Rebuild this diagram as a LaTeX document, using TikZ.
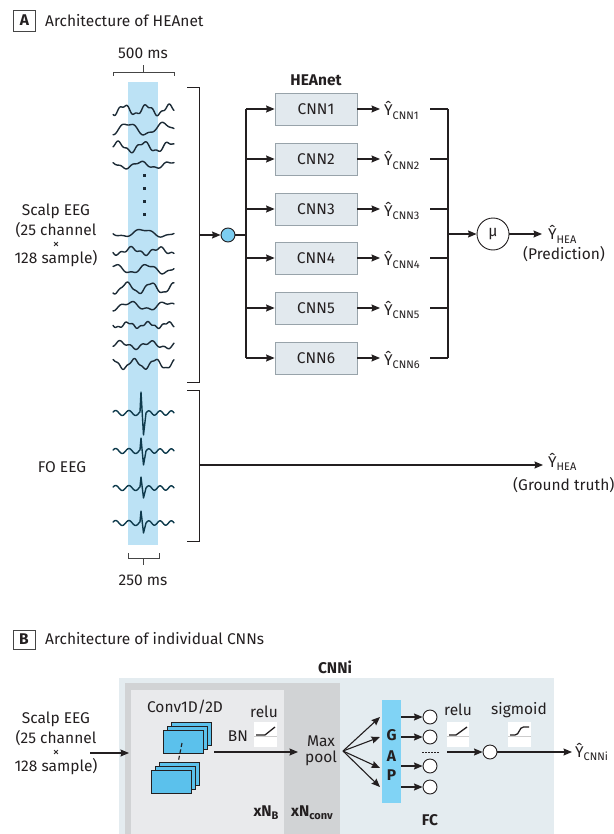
\documentclass[tikz,border=0pt]{standalone}
\usepackage{fontspec}
\setmainfont{Fira Sans}
\usetikzlibrary{arrows.meta,calc}
\definecolor{txt}{HTML}{231F20}
\definecolor{bandc}{HTML}{BCE2F5}
\definecolor{splitc}{HTML}{7CCDF0}
\definecolor{boxfill}{HTML}{E2E9EE}
\definecolor{boxline}{HTML}{98A3AA}
\definecolor{outerc}{HTML}{E4ECF0}
\definecolor{darkg}{HTML}{D1D3D5}
\definecolor{innerg}{HTML}{E9EAEC}
\definecolor{gapc}{HTML}{80D3F5}
\definecolor{convc}{HTML}{5BC1EC}
\definecolor{tracec}{HTML}{1C2B36}
\definecolor{fotc}{HTML}{0E3A4C}
\definecolor{brk}{HTML}{454545}
\newcommand{\eegwave}[6]{\draw[trace] plot[domain=0:61,samples=90,smooth] ({113+\x},{#1+#2*sin(#3*\x+#4)+#5*sin(2.7*#3*\x+#6)});}
\newcommand{\fowave}[3]{\draw[trace,draw=fotc] plot[domain=0:27,samples=40,smooth] ({113+\x},{#1+2.5*sin(27*\x+200)}) -- (141,#1-#2) -- (143.5,#1+#3) -- (146,#1) -- plot[domain=0:28,samples=40,smooth] ({146+\x},{#1+2.2*sin(32*\x+180)});}
\newcommand{\fsz}{\fontsize{15.5}{18}\selectfont}
\tikzset{
  conn/.style={line width=1.1pt, draw=txt},
  arr/.style={conn, -{Stealth[length=8.5pt,width=7pt,inset=1pt]}},
  brack/.style={line width=0.9pt, draw=brk},
  cnnbox/.style={draw=boxline, fill=boxfill, line width=0.8pt, minimum width=82pt, minimum height=32pt, inner sep=0pt, text=txt, font=\fsz},
  lbl/.style={text=txt, font=\fsz, inner sep=0pt},
  blbl/.style={lbl, font=\fsz\bfseries},
  panel/.style={draw=brk, line width=0.8pt, minimum width=22pt, minimum height=21pt, inner sep=0pt, text=txt, font=\fsz\bfseries},
  trace/.style={line width=1.4pt, draw=tracec, line cap=round, line join=round},
  dotc/.style={circle, draw=txt, fill=white, line width=0.9pt, minimum size=14pt, inner sep=0pt},
  icon/.style={fill=white},
  convr/.style={draw=txt, fill=convc, line width=0.9pt},
}
\newcommand{\subs}[1]{\raisebox{-0.4ex}{\fontsize{11}{11}\selectfont #1}}
\newcommand{\smx}{{\fontsize{13}{13}\selectfont ×}}
\begin{document}
\begin{tikzpicture}[x=1pt,y=-1pt]
\useasboundingbox (0,0) rectangle (613,834);
% ---------- Panel A ----------
\node[panel] (pA) at (24.5,20.5) {A};
\node[lbl, anchor=west] (tA) at (45,20.5) {Architecture of HEAnet};
\fill[bandc] (128,82) rectangle (158,545);
\node[lbl] (ms500) at (143,53) {500 ms};
\draw[brack] (113,76) -- (113,72) -- (174,72) -- (174,76) (143,72) -- (143,65);
% scalp traces
\eegwave{110}{4.5}{16}{90}{1.5}{0}
\eegwave{129}{5.5}{10}{120}{1.5}{40}
\eegwave{147}{4.5}{14}{200}{1.5}{80}
\eegwave{165}{3}{12}{300}{1}{10}
\foreach \yy in {176,189,202,215} \fill[tracec] (142.5,\yy-1.5) rectangle (145.5,\yy+1.5);
\eegwave{233}{3.5}{9}{0}{1}{50}
\eegwave{251}{3}{13}{30}{1.5}{0}
\eegwave{269}{4}{11}{250}{1.2}{90}
\eegwave{288}{5}{15}{60}{1}{30}
\eegwave{306}{3.5}{10}{100}{1.5}{70}
\eegwave{325}{2.5}{18}{0}{1}{20}
\eegwave{345}{3}{12}{180}{1.5}{60}
\eegwave{364}{4.5}{17}{270}{1}{0}
% FO traces
\fowave{413}{21}{22}
\fowave{451}{13}{14}
\fowave{488}{11}{10}
\fowave{523}{12}{10}
\node[lbl] (l250) at (143,580) {250 ms};
\draw[brack] (128,553) -- (128,558) -- (159,558) -- (159,553) (143,558) -- (143,565);
% left labels
\node[lbl, align=center] (scalpA) at (56,235) {Scalp EEG\\[2pt](25 channel\\[-5pt]\smx\\[-3pt]128 sample)};
\node[lbl] (foA) at (62,467) {FO EEG};
% brackets
\coordinate (sbT) at (187,87); \coordinate (sbB) at (187,382); \coordinate (sbM) at (199,235);
\draw[brack, draw=txt] (sbT) -- (199,87) -- (199,382) -- (sbB);
\coordinate (fbT) at (187,390); \coordinate (fbB) at (187,541); \coordinate (fbM) at (199,465);
\draw[brack, draw=txt] (fbT) -- (199,390) -- (199,541) -- (fbB);
% split
\node[circle, draw=txt, fill=splitc, line width=0.9pt, minimum size=14pt, inner sep=0pt] (split) at (228,235) {};
\draw[arr] (sbM) -- (split);
\coordinate (bx) at (246,235);
\draw[conn] (split) -- (bx);
\node[blbl] (heanet) at (316,80) {HEAnet};
\draw[conn] (246,109) -- (246,358);
\coordinate (rx) at (448,234);
\draw[conn] (448,109) -- (448,358);
\foreach \i/\yy in {1/109,2/159,3/209,4/258,5/308,6/358}{
  \coordinate (bl\i) at (246,\yy);
  \node[cnnbox] (cnn\i) at (316,\yy) {CNN\i};
  \draw[arr] (bl\i) -- (cnn\i);
  \coordinate (ae\i) at (380,\yy);
  \draw[arr] (cnn\i) -- (ae\i);
  \node[lbl, anchor=base west] (yh\i) at (384,\yy+7) {Ŷ\subs{CNN\i}};
  \coordinate (ys\i) at (430,\yy);
  \coordinate (yr\i) at (448,\yy);
  \draw[conn] (ys\i) -- (yr\i);
}
\node[circle, draw=txt, fill=white, line width=0.9pt, minimum size=32pt, inner sep=0pt, text=txt, font=\fsz] (mu) at (493,234) {µ};
\draw[arr] (rx) -- (mu);
\coordinate (pe) at (542,234);
\draw[arr] (mu) -- (pe);
\node[lbl, anchor=base west] (yhea) at (548,240) {Ŷ\subs{HEA}};
\node[lbl] (pred) at (564,254) {(Prediction)};
\coordinate (ge) at (543,465);
\draw[arr] (fbM) -- (ge);
\node[lbl, anchor=base west] (yhea2) at (548,467) {Ŷ\subs{HEA}};
\node[lbl, anchor=west] (gt) at (513,485) {(Ground truth)};
% ---------- Panel B ----------
\node[panel, minimum height=19pt] (pB) at (24,639.5) {B};
\node[lbl, anchor=west] (tB) at (45,638.5) {Architecture of individual CNNs};
\fill[outerc] (119,678) rectangle (554,834);
\fill[darkg] (125,683) rectangle (340,834);
\fill[innerg] (131,690) rectangle (284,834);
\node[blbl] (cnni) at (335,667) {CNNi};
\node[lbl] (conv) at (185,707) {Conv1D/2D};
% conv stacks
\foreach \k in {8,4,0}{
  \draw[convr] (163+\k,730-\k) rectangle (203+\k,753-\k);
  \draw[convr] (151+\k,770-\k) rectangle (191+\k,793-\k);
}
\coordinate (sa) at (182,743); \coordinate (sb) at (178,763);
\draw[line width=1.1pt, draw=txt, dash pattern=on 4pt off 2.5pt] (sa) -- (sb);
\node[lbl] (bn) at (238,736) {BN};
\node[lbl] (relu1) at (264,712) {relu};
\fill[icon] (254,722) rectangle (277,747);
\draw[gray!40, line width=0.6pt] (254,736) -- (277,736);
\draw[line width=1.3pt, draw=txt] (256,735) -- (265,735) -- (275,727);
% input
\node[lbl, align=center] (scalpB) at (56,743) {Scalp EEG\\[2pt](25 channel\\[-5pt]\smx\\[-3pt]128 sample)};
\coordinate (inS) at (90,753); \coordinate (inE) at (129,753);
\draw[arr] (inS) -- (inE);
\coordinate (cS) at (214,752); \coordinate (cE) at (298,752);
\draw[arr] (cS) -- (cE);
\node[lbl, align=center] (maxp) at (321,751) {Max\\[-2pt]pool};
% GAP
\node[fill=gapc, minimum width=19pt, minimum height=103pt, inner sep=0pt] (gap) at (391.5,751.5) {};
\node[blbl] (gG) at (391.5,735) {G};
\node[blbl] (gA) at (391.5,756) {A};
\node[blbl] (gP) at (391.5,775) {P};
\coordinate (fan) at (343,751);
\foreach \j/\yy in {1/717,2/737,3/768,4/787}{
  \coordinate (ft\j) at (380,\yy);
  \draw[arr] (fan) -- (ft\j);
}
\foreach \j/\yy in {1/717,2/737,3/766,4/787}{
  \node[dotc] (n\j) at (430,\yy) {};
  \coordinate (gs\j) at (401,\yy);
  \draw[arr] (gs\j) -- (n\j);
}
\coordinate (d1) at (422,752); \coordinate (d2) at (440,752);
\draw[line width=0.9pt, draw=txt, dash pattern=on 1.5pt off 1.5pt] (d1) -- (d2);
\node[lbl] (relu2) at (458,710) {relu};
\fill[icon] (447,722) rectangle (469,747);
\draw[gray!40, line width=0.6pt] (447,736) -- (469,736);
\draw[line width=1.3pt, draw=txt] (449,735) -- (456,735) -- (467,727);
\node[lbl] (sigm) at (519,710) {sigmoid};
\fill[icon] (508,722) rectangle (531,747);
\draw[gray!40, line width=0.6pt] (508,736) -- (531,736);
\draw[line width=1.3pt, draw=txt] (510,735) -- (515,735) .. controls (519.5,735) and (519,727) .. (523.5,727) -- (529,727);
\coordinate (oS) at (447,752);
\node[dotc] (outn) at (490,752) {};
\draw[arr] (oS) -- (outn);
\coordinate (oE) at (572,752);
\draw[arr] (outn) -- (oE);
\node[lbl, anchor=base west] (ycnni) at (575,757) {Ŷ\subs{CNNi}};
\node[blbl, anchor=base] (xnb) at (266,816) {xN\subs{B}};
\node[blbl, anchor=base] (xnc) at (312,816) {xN\subs{conv}};
\node[blbl] (fc) at (430,820) {FC};
\end{tikzpicture}
\end{document}
